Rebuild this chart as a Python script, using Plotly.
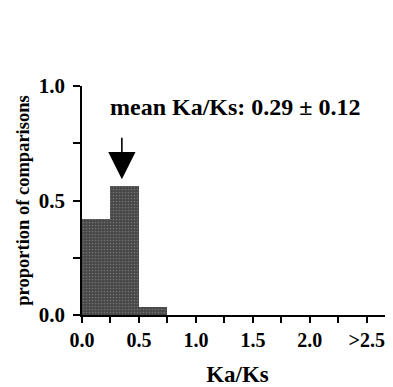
import plotly.graph_objects as go

bin_left = [0.0, 0.25, 0.5]
proportions = [0.42, 0.565, 0.035]
bin_width = 0.25
x_tickvals = [0, 0.25, 0.5, 0.75, 1.0, 1.25, 1.5, 1.75, 2.0, 2.25, 2.5]
x_ticktext = ["0.0", "", "0.5", "", "1.0", "", "1.5", "", "2.0", "", ">2.5"]
y_tickvals = [0, 0.25, 0.5, 0.75, 1.0]
y_ticktext = ["0.0", "", "0.5", "", "1.0"]
mean_text = "mean Ka/Ks: 0.29 \u00b1 0.12"
arrow_x = 0.35

FONT = "Liberation Serif"

fig = go.Figure()
fig.add_trace(go.Bar(
    x=[b + bin_width / 2 for b in bin_left],
    y=proportions,
    width=bin_width,
    marker=dict(color="#474747", line=dict(width=0),
                pattern=dict(shape=".", fgcolor="#9a9a9a", size=3, solidity=0.25)),
    hoverinfo="skip",
))

fig.add_annotation(x=1.35, y=0.91, xref="x", yref="y", text=mean_text,
                   showarrow=False, font=dict(family=FONT, size=24, color="black", weight="bold"))
fig.add_annotation(x=arrow_x, y=0.593, xref="x", yref="y", text="", showarrow=True,
                   ax=0, ay=-43, arrowhead=2, arrowsize=3.4, arrowwidth=1.6, arrowcolor="black")

fig.update_layout(
    width=385, height=379,
    margin=dict(l=74, r=0, t=78, b=70),
    paper_bgcolor="white", plot_bgcolor="white",
    showlegend=False, bargap=0,
    font=dict(family=FONT, color="black"),
    xaxis=dict(range=[0, 2.73], showgrid=False, zeroline=False, showline=True,
               linecolor="black", linewidth=2, ticks="outside", ticklen=6, tickwidth=1.5,
               tickcolor="black", tickvals=x_tickvals, ticktext=x_ticktext,
               tickfont=dict(family=FONT, size=20, color="black", weight="bold"),
               title=dict(text="Ka/Ks", font=dict(family=FONT, size=23, weight="bold"), standoff=20)),
    yaxis=dict(range=[0, 1.0], showgrid=False, zeroline=False, showline=True,
               linecolor="black", linewidth=1.5, ticks="outside", ticklen=7, tickwidth=1.5,
               tickcolor="black", tickvals=y_tickvals, ticktext=y_ticktext,
               ticklabelstandoff=4,
               tickfont=dict(family=FONT, size=21, color="black", weight="bold"),
               title=dict(text="proportion of comparisons",
                          font=dict(family=FONT, size=18.5, weight="bold"), standoff=4)),
)

fig.write_html("out.html")
